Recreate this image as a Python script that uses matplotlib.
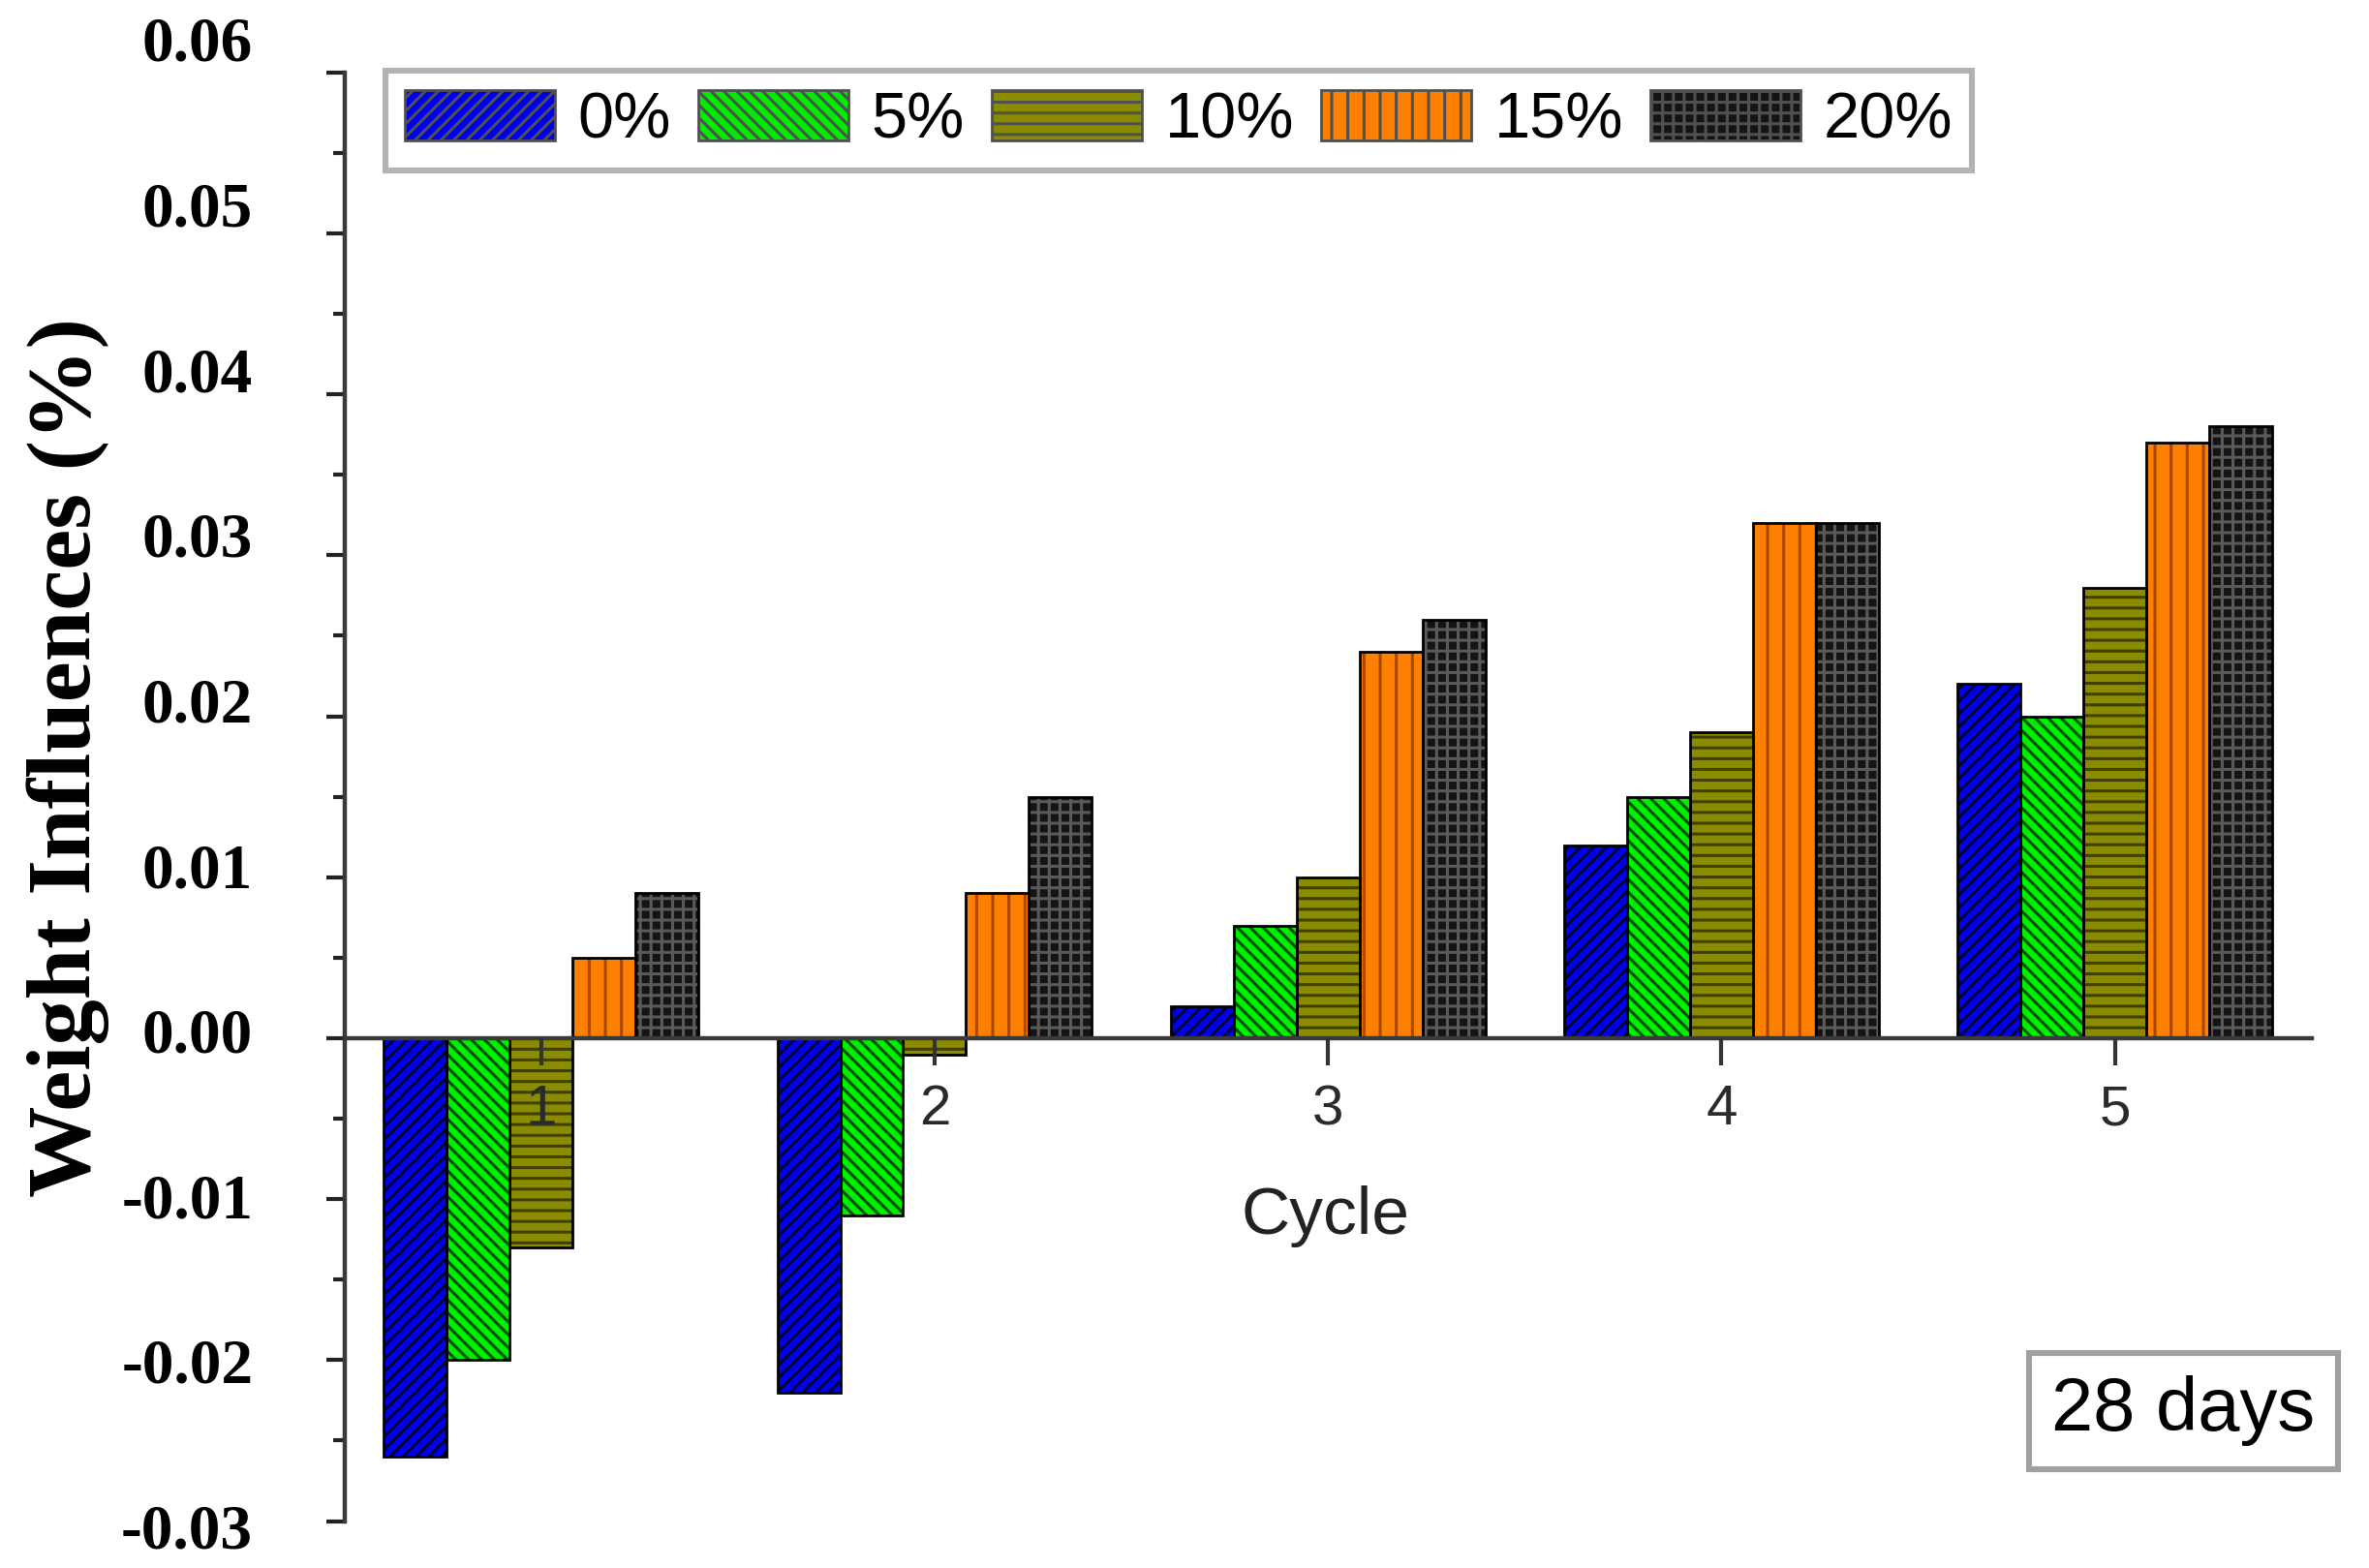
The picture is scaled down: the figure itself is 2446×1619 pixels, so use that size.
import numpy as np
import matplotlib
matplotlib.use('Agg')
import matplotlib.pyplot as plt
from matplotlib.ticker import FixedLocator, MultipleLocator
from matplotlib.transforms import ScaledTranslation

plt.rcParams['hatch.linewidth'] = 1.1
plt.rcParams['axes.unicode_minus'] = False

# data
cycles = [1, 2, 3, 4, 5]
series = ['0%', '5%', '10%', '15%', '20%']
w_0 = [-0.026, -0.022, 0.002, 0.012, 0.022]
w_5 = [-0.020, -0.011, 0.007, 0.015, 0.020]
w_10 = [-0.013, -0.001, 0.010, 0.019, 0.028]
w_15 = [0.005, 0.009, 0.024, 0.032, 0.037]
w_20 = [0.009, 0.015, 0.026, 0.032, 0.038]
yticks = [-0.03, -0.02, -0.01, 0.00, 0.01, 0.02, 0.03, 0.04, 0.05, 0.06]

values = [w_0, w_5, w_10, w_15, w_20]
faces = ['#0000ee', '#00ee00', '#8b8b00', '#ff8000', '#141414']
hatch_cols = ['#000030', '#005000', '#3f3f00', '#a84800', '#5a5a5a']
hatches = ['/////', '\\\\\\\\\\', '---', '||', '+++']

fig = plt.figure(figsize=(12.23, 8.095), dpi=200)
ax = fig.add_axes([0.1454, 0.0299, 0.9758 - 0.1454, 0.9538 - 0.0299])

x = np.array(cycles, dtype=float)
bw = 0.16
handles = []
for i, vals in enumerate(values):
    xi = x + (i - 2) * bw
    # hatch layer (hatch colour follows edgecolor), then black outline on top
    b = ax.bar(xi, vals, bw, color=faces[i], edgecolor=hatch_cols[i],
               hatch=hatches[i], linewidth=0, zorder=2, label=series[i])
    ax.bar(xi, vals, bw, fill=False, edgecolor='black', linewidth=1.0, zorder=3)
    handles.append(b)

ax.set_xlim(0.5, 5.5)
ax.set_ylim(-0.03, 0.06)

for s in ['top', 'right']:
    ax.spines[s].set_visible(False)
ax.spines['bottom'].set_position(('data', 0))
ax.spines['bottom'].set_color('#3a3a3a')
ax.spines['bottom'].set_linewidth(1.6)
ax.spines['bottom'].set_zorder(4)
ax.spines['left'].set_color('#3a3a3a')
ax.spines['left'].set_linewidth(1.6)
ax.xaxis.set_zorder(5)

ax.set_xticks(cycles)
ax.set_xticklabels([str(c) for c in cycles], fontfamily='Liberation Sans',
                   fontsize=21, color='#2a2a2a')
ax.tick_params(axis='x', direction='out', length=10, width=1.5, pad=7, color='#333333')

ax.yaxis.set_major_locator(FixedLocator(yticks))
ax.yaxis.set_minor_locator(MultipleLocator(0.005))
ax.set_yticklabels(['%.2f' % v for v in yticks], fontfamily='Liberation Serif',
                   fontweight='bold', fontsize=23.5)
ax.tick_params(axis='y', which='major', direction='out', length=7, width=1.5,
               pad=27, color='#222222')
ax.tick_params(axis='y', which='minor', direction='out', length=4.5, width=1.5,
               color='#222222')

# in the original the y labels drift upward relative to the ticks
for t, v in zip(ax.yaxis.get_major_ticks(), yticks):
    dy = ((v + 0.03) / 0.01) * 1.6 - 1.8
    t.label1.set_transform(t.label1.get_transform() +
                           ScaledTranslation(0, dy / 72, fig.dpi_scale_trans))

ax.set_ylabel('Weight Influences (%)', fontfamily='Liberation Serif',
              fontweight='bold', fontsize=34, va='center')
ax.yaxis.set_label_coords(-0.1405, 0.527)

ax.set_xlabel('Cycle', fontfamily='Liberation Sans', fontsize=25,
              color='#222222', va='center')
ax.xaxis.set_label_coords(0.4985, 0.2106)

leg = ax.legend(handles=handles, labels=series, loc='upper left',
                bbox_to_anchor=(0.0207, 1.001), ncol=5, frameon=True,
                fancybox=False, borderaxespad=0, borderpad=0.3,
                handlelength=2.33, handleheight=0.82, handletextpad=0.35,
                columnspacing=0.42, prop={'family': 'Liberation Sans', 'size': 24})
leg.get_frame().set_edgecolor('#a0a0a0')
leg.get_frame().set_linewidth(2.2)
for p in leg.get_patches():
    p.set_edgecolor('#505050')
    p.set_linewidth(1.0)

ax.text(0.9347, 0.0761, '28 days', transform=ax.transAxes, ha='center',
        va='center', fontfamily='Liberation Sans', fontsize=28,
        bbox=dict(boxstyle='square,pad=0.3', facecolor='white',
                  edgecolor='#a0a0a0', linewidth=2.2))

fig.savefig('out.png', dpi=200)
